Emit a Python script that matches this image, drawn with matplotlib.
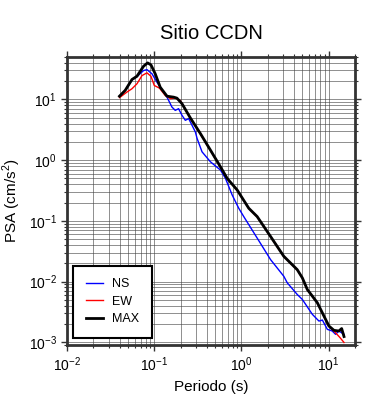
import matplotlib
matplotlib.use("Agg")
import matplotlib.pyplot as plt
from matplotlib.ticker import LogLocator, NullFormatter

plt.rcParams['font.family'] = ['Liberation Sans', 'DejaVu Sans']
plt.rcParams['mathtext.fontset'] = 'custom'
plt.rcParams['mathtext.rm'] = 'Liberation Sans'

# periods (s) and PSA (cm/s^2)
t_ns = [0.0399, 0.0464, 0.0555, 0.0633, 0.0753, 0.0824, 0.0942, 0.1074, 0.1228, 0.140,
        0.1595, 0.174, 0.190, 0.208, 0.227, 0.248, 0.271, 0.296, 0.310, 0.353,
        0.441, 0.574, 0.655, 0.782, 0.931, 1.062, 1.514, 2.155, 3.06, 3.35,
        4.36, 4.99, 6.50, 7.74, 8.47, 9.66, 11.0, 12.0, 13.1, 15.0]
psa_ns = [11.3, 14.1, 21.0, 23.8, 29.9, 31.0, 26.4, 19.2, 14.4, 10.9,
          7.48, 6.6, 7.04, 5.47, 4.53, 4.83, 3.75, 2.91, 2.27, 1.37,
          0.938, 0.686, 0.501, 0.267, 0.161, 0.1175, 0.052, 0.023, 0.0122, 0.00953,
          0.00612, 0.00507, 0.00288, 0.00223, 0.00232, 0.00163, 0.00153, 0.00135, 0.00153, 0.00135]

t_ew = [0.0399, 0.0485, 0.0555, 0.0633, 0.0723, 0.0824, 0.0916, 0.100, 0.115, 0.1337,
        0.153, 0.174, 0.199, 0.259, 0.338, 0.441, 0.574, 0.685, 0.893, 1.213,
        1.514, 2.155, 3.06, 4.36, 4.99, 5.69, 7.41, 8.83, 10.07, 11.5, 13.5, 15.0]
psa_ew = [10.7, 13.2, 15.0, 18.1, 24.7, 27.4, 24.1, 17.0, 15.3, 11.6,
          10.3, 10.5, 9.6, 4.9, 2.7, 1.44, 0.77, 0.50, 0.32, 0.16,
          0.1165, 0.055, 0.0258, 0.0156, 0.0114, 0.0073, 0.00445, 0.00268, 0.00183, 0.00153, 0.00119, 0.00099]

t_max = [0.0399, 0.0464, 0.0555, 0.0633, 0.0753, 0.0838, 0.0916, 0.1026, 0.117, 0.140,
         0.167, 0.182, 0.208, 0.259, 0.338, 0.441, 0.574, 0.685, 0.893, 1.213,
         1.514, 2.155, 3.06, 4.36, 4.99, 5.69, 7.41, 8.83, 10.07, 11.5, 13.1, 14.1, 15.0]
psa_max = [11.3, 14.1, 21.3, 24.1, 35.2, 40.0, 37.1, 26.4, 15.9, 11.3,
           10.9, 10.5, 8.5, 4.97, 2.74, 1.46, 0.776, 0.501, 0.322, 0.161,
           0.1175, 0.0553, 0.026, 0.0157, 0.0115, 0.0074, 0.00448, 0.0027, 0.00185, 0.00157, 0.00153, 0.00168, 0.00124]

fig = plt.figure(figsize=(3.9, 4.0), dpi=100)
ax = fig.add_axes([0.172, 0.1375, 0.738, 0.72])

ax.plot(t_ns, psa_ns, color='blue', lw=1.0, label='NS')
ax.plot(t_ew, psa_ew, color='red', lw=1.0, label='EW')
ax.plot(t_max, psa_max, color='black', lw=2.0, label='MAX')

ax.set_xscale('log')
ax.set_yscale('log')
ax.set_xlim(0.01, 20)
ax.set_ylim(0.0009, 50)

ax.xaxis.set_major_locator(LogLocator(base=10, numticks=10))
ax.xaxis.set_minor_locator(LogLocator(base=10, subs=range(2, 10), numticks=20))
ax.yaxis.set_major_locator(LogLocator(base=10, numticks=10))
ax.yaxis.set_minor_locator(LogLocator(base=10, subs=range(2, 10), numticks=20))
ax.xaxis.set_minor_formatter(NullFormatter())
ax.yaxis.set_minor_formatter(NullFormatter())

ax.grid(True, which='both', color='#444444', lw=0.6, alpha=0.7)
ax.set_axisbelow(True)

ax.tick_params(which='both', direction='out', top=True, right=True,
               labelsize=10, color='#333333')
ax.tick_params(which='major', length=4, width=1.0)
ax.tick_params(which='minor', length=2.5, width=0.8)
for s in ax.spines.values():
    s.set_linewidth(2.0)
    s.set_color('#333333')

ax.set_title('Sitio CCDN', fontsize=14.5, pad=13)
ax.set_xlabel('Periodo (s)', fontsize=11)
ax.set_ylabel('PSA (cm/s$^2$)', fontsize=11)

leg = ax.legend(loc='lower left', bbox_to_anchor=(0.022, 0.025), fontsize=9,
                fancybox=False, framealpha=1, edgecolor='black',
                handlelength=1.4, handletextpad=0.7, labelspacing=0.45,
                borderpad=1.0, borderaxespad=0)
leg.get_frame().set_linewidth(1.5)

plt.savefig('out.png', dpi=100)
